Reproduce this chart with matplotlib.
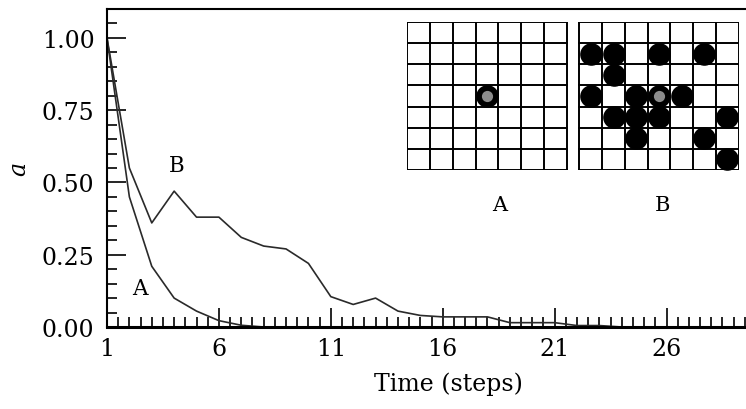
import matplotlib.pyplot as plt
from matplotlib.ticker import MultipleLocator, FormatStrFormatter

plt.rcParams['font.family'] = 'DejaVu Serif'

# activity a(t) for the two starting configurations
steps = list(range(1, 30))
a_single = [1.00, 0.45, 0.21, 0.10, 0.055, 0.022, 0.006, 0, 0, 0,
            0, 0, 0, 0, 0, 0, 0, 0, 0, 0,
            0, 0, 0, 0, 0, 0, 0, 0, 0]
a_cluster = [1.00, 0.55, 0.36, 0.47, 0.38, 0.38, 0.31, 0.28, 0.27, 0.22,
             0.105, 0.078, 0.10, 0.055, 0.04, 0.035, 0.035, 0.035, 0.015, 0.015,
             0.015, 0.005, 0.005, 0, 0, 0, 0, 0, 0]

x_ticks = [1, 6, 11, 16, 21, 26]
y_ticks = [0.0, 0.25, 0.5, 0.75, 1.0]

# occupied cells of the 7x7 lattices (row, col), row 0 at the top
grid_size = 7
seed_cell = (3, 3)
cells_a = [(3, 3)]
cells_b = [(1, 0), (1, 1), (1, 3), (1, 5), (2, 1), (3, 0), (3, 2), (3, 3), (3, 4),
           (4, 1), (4, 2), (4, 3), (4, 6), (5, 2), (5, 5), (6, 6)]

fig = plt.figure(figsize=(7.46, 4.10), dpi=100)
ax = fig.add_axes([107 / 746, 82 / 410, 639 / 746, 318 / 410])

line_col = '#2a2a2a'
ax.plot(steps, a_single, color=line_col, lw=1.2)
ax.plot(steps, a_cluster, color=line_col, lw=1.2)

ax.set_xlim(1, 29.55)
ax.set_ylim(0, 1.10)
ax.set_xticks(x_ticks)
ax.set_yticks(y_ticks)
ax.xaxis.set_minor_locator(MultipleLocator(0.5))
ax.yaxis.set_minor_locator(MultipleLocator(0.05))
ax.yaxis.set_major_formatter(FormatStrFormatter('%.2f'))
ax.tick_params(which='both', direction='in', width=1.2, colors='black', labelsize=17)
ax.tick_params(which='major', length=14)
ax.tick_params(which='minor', length=7)
ax.tick_params(axis='y', pad=9)
ax.tick_params(axis='x', pad=7)
ax.spines['right'].set_visible(False)
for side in ['left', 'top']:
    ax.spines[side].set_linewidth(1.5)
ax.spines['bottom'].set_linewidth(2.2)

ax.set_xlabel('Time (steps)', fontsize=17)
ax.xaxis.set_label_coords(0.535, -0.14)
ax.set_ylabel('a', fontsize=17, style='italic')
ax.yaxis.set_label_coords(-0.12, 0.5)

ax.text(4.1, 0.56, 'B', fontsize=15.5, ha='center', va='center')
ax.text(2.47, 0.135, 'A', fontsize=15.5, ha='center', va='center')
ax.text(18.55, 0.425, 'A', fontsize=15, ha='center', va='center')
ax.text(25.8, 0.425, 'B', fontsize=15, ha='center', va='center')

# the two lattices side by side, one unit per cell
gap = 0.57
ax_in = fig.add_axes([407 / 746, (410 - 171) / 410, 332 / 746, 148 / 410])
ax_in.set_xlim(-0.02, 2 * grid_size + gap + 0.02)
ax_in.set_ylim(-0.02, grid_size + 0.02)
ax_in.axis('off')
for offset, cells in [(0, cells_a), (grid_size + gap, cells_b)]:
    for k in range(grid_size + 1):
        ax_in.plot([offset + k, offset + k], [0, grid_size], color='black', lw=1.4)
        ax_in.plot([offset, offset + grid_size], [k, k], color='black', lw=1.4)
    xs = [offset + c + 0.5 for r, c in cells]
    ys = [grid_size - r - 0.5 for r, c in cells]
    ax_in.scatter(xs, ys, s=265, color='black', zorder=3, linewidths=0)
    ax_in.scatter([offset + seed_cell[1] + 0.5], [grid_size - seed_cell[0] - 0.5],
                  s=65, color='#8c8c8c', zorder=4, linewidths=0)

fig.savefig('out.png', dpi=100)
